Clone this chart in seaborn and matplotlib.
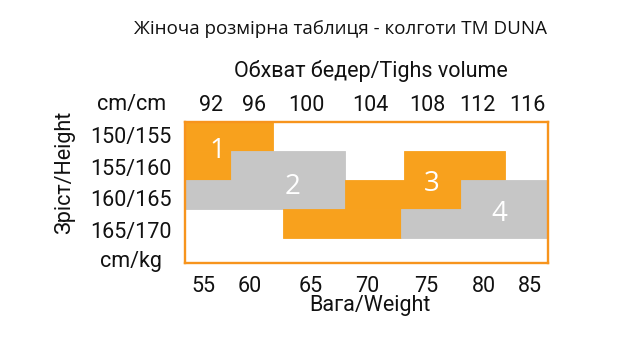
import numpy as np
import pandas as pd
import matplotlib
matplotlib.use("Agg")
import matplotlib.pyplot as plt
import seaborn as sns

# ---- data -------------------------------------------------------------
TITLE = "Жіноча розмірна таблиця - колготи ТМ DUNA"
HIP_TITLE = "Обхват бедер/Tighs volume"
WEIGHT_TITLE = "Вага/Weight"
HEIGHT_TITLE = "Зріст/Height"

HEIGHT_ROWS = ["150/155", "155/160", "160/165", "165/170"]
HEIGHT_EDGES = [150, 155, 160, 165, 170]
WEIGHT_TICKS = [55, 60, 65, 70, 75, 80, 85]
HIP_TICKS = [92, 96, 100, 104, 108, 112, 116]

# weight range covered by the grid (kg)
W_MIN, W_MAX = 53.1, 87.0

# size zones: weight span (kg) that each size covers in a height row
ZONE_SIZE = ["1", "1", "2", "2", "3", "3", "3", "4", "4"]
ZONE_ROW = [0, 1, 1, 2, 1, 2, 3, 2, 3]
ZONE_W_FROM = [W_MIN, W_MIN, 58.0, W_MIN, 73.1, 68.0, 62.7, 78.0, 72.9]
ZONE_W_TO = [61.9, 58.0, 68.0, 68.0, 82.3, 78.0, 72.9, W_MAX, W_MAX]

# where each size number is written (weight kg, height cm)
SIZE_NAMES = ["1", "2", "3", "4"]
SIZE_LABEL_W = [56.5, 63.5, 75.5, 81.7]
SIZE_LABEL_H = [155.0, 161.2, 160.7, 165.9]

# ---- layout -----------------------------------------------------------
# tick placement along the frame (0 = left edge, 1 = right edge)
WEIGHT_TICK_POS = [0.050, 0.179, 0.347, 0.501, 0.664, 0.824, 0.950]
HIP_TICK_POS = [0.072, 0.190, 0.333, 0.510, 0.667, 0.804, 0.942]
# row label placement, fraction of the frame from the top
ROW_LABEL_POS = [0.092, 0.319, 0.539, 0.766, 0.975]
H_BOTTOM = 174.3

ORANGE = "#F8A11D"
FRAME = "#F7941D"
GREY = "#C6C6C6"
ZONE_COLORS = {"1": ORANGE, "2": GREY, "3": ORANGE, "4": GREY}

sns.set_theme(style="white")
LABEL_FONT = ["Roboto", "DejaVu Sans"]
TITLE_FONT = ["Open Sans", "DejaVu Sans"]
plt.rcParams["font.family"] = LABEL_FONT

# piecewise-linear weight scale so the ticks land where the grid needs them
KG = np.array([W_MIN] + WEIGHT_TICKS + [W_MAX], dtype=float)
POS = np.array([0.0] + WEIGHT_TICK_POS + [1.0])
S0 = (POS[1] - POS[0]) / (KG[1] - KG[0])
S1 = (POS[-1] - POS[-2]) / (KG[-1] - KG[-2])


def kg_to_pos(w):
    w = np.asarray(w, dtype=float)
    out = np.interp(w, KG, POS)
    out = np.where(w < KG[0], POS[0] + (w - KG[0]) * S0, out)
    out = np.where(w > KG[-1], POS[-1] + (w - KG[-1]) * S1, out)
    return out


def pos_to_kg(p):
    p = np.asarray(p, dtype=float)
    out = np.interp(p, POS, KG)
    out = np.where(p < POS[0], KG[0] + (p - POS[0]) / S0, out)
    out = np.where(p > POS[-1], KG[-1] + (p - POS[-1]) / S1, out)
    return out


zones = pd.DataFrame({
    "size": ZONE_SIZE,
    "row": ZONE_ROW,
    "w0": ZONE_W_FROM,
    "w1": ZONE_W_TO,
})
zones["h0"] = [HEIGHT_EDGES[r] for r in zones["row"]]
zones["h1"] = [HEIGHT_EDGES[r + 1] for r in zones["row"]]

fig = plt.figure(figsize=(6.2, 3.38), dpi=100)
ax = fig.add_axes([185 / 620, 75 / 338, 363 / 620, 141 / 338])
ax.set_xscale("function", functions=(kg_to_pos, pos_to_kg))
ax.set_xlim(W_MIN, W_MAX)
ax.set_ylim(H_BOTTOM, HEIGHT_EDGES[0])

for _, z in zones.iterrows():
    c = ZONE_COLORS[z["size"]]
    ax.barh((z["h0"] + z["h1"]) / 2, z["w1"] - z["w0"], left=z["w0"],
            height=z["h1"] - z["h0"], color=c, edgecolor=c, linewidth=0.6,
            zorder=2)

for name, w, h in zip(SIZE_NAMES, SIZE_LABEL_W, SIZE_LABEL_H):
    ax.text(w, h, name, color="white", fontsize=20, ha="center",
            va="center", family=TITLE_FONT, zorder=3)

for s in ax.spines.values():
    s.set_color(FRAME)
    s.set_linewidth(1.7)
    s.set_zorder(4)

# bottom: weight ticks
ax.set_xticks(WEIGHT_TICKS)
ax.set_xticklabels([str(v) for v in WEIGHT_TICKS])
ax.xaxis.set_minor_locator(matplotlib.ticker.NullLocator())
ax.tick_params(axis="x", length=0, pad=9, labelsize=15.5, labelcolor="#111111")

# left: height rows (plus the unit row)
row_y = [HEIGHT_EDGES[0] + f * (H_BOTTOM - HEIGHT_EDGES[0]) for f in ROW_LABEL_POS]
ax.set_yticks(row_y)
ax.set_yticklabels(HEIGHT_ROWS + ["cm/kg"])
ax.tick_params(axis="y", length=0, pad=39, labelsize=15.5, labelcolor="#111111")
for t in ax.get_yticklabels():
    t.set_horizontalalignment("center")

# top: hip volume ticks
top = ax.twiny()
top.set_xlim(0, 1)
top.set_xticks(HIP_TICK_POS)
top.set_xticklabels([str(v) for v in HIP_TICKS])
top.tick_params(axis="x", length=0, pad=4, labelsize=15.5, labelcolor="#111111")
for s in top.spines.values():
    s.set_visible(False)

fig.text(132 / 620, 1 - 105 / 338, "cm/cm", ha="center", va="center",
         fontsize=15.5, color="#111111")
fig.text(340 / 620, 1 - 29 / 338, TITLE, ha="center", va="center",
         fontsize=13.5, color="#111111", family=TITLE_FONT)
fig.text(371 / 620, 1 - 71 / 338, HIP_TITLE, ha="center", va="center",
         fontsize=15.5, color="#111111")
fig.text(370 / 620, 1 - 306 / 338, WEIGHT_TITLE, ha="center", va="center",
         fontsize=15.5, color="#111111")
fig.text(65 / 620, 1 - 172 / 338, HEIGHT_TITLE, ha="center", va="center",
         rotation=90, fontsize=15.5, color="#111111")

fig.savefig("out.png", dpi=100, facecolor="white")
